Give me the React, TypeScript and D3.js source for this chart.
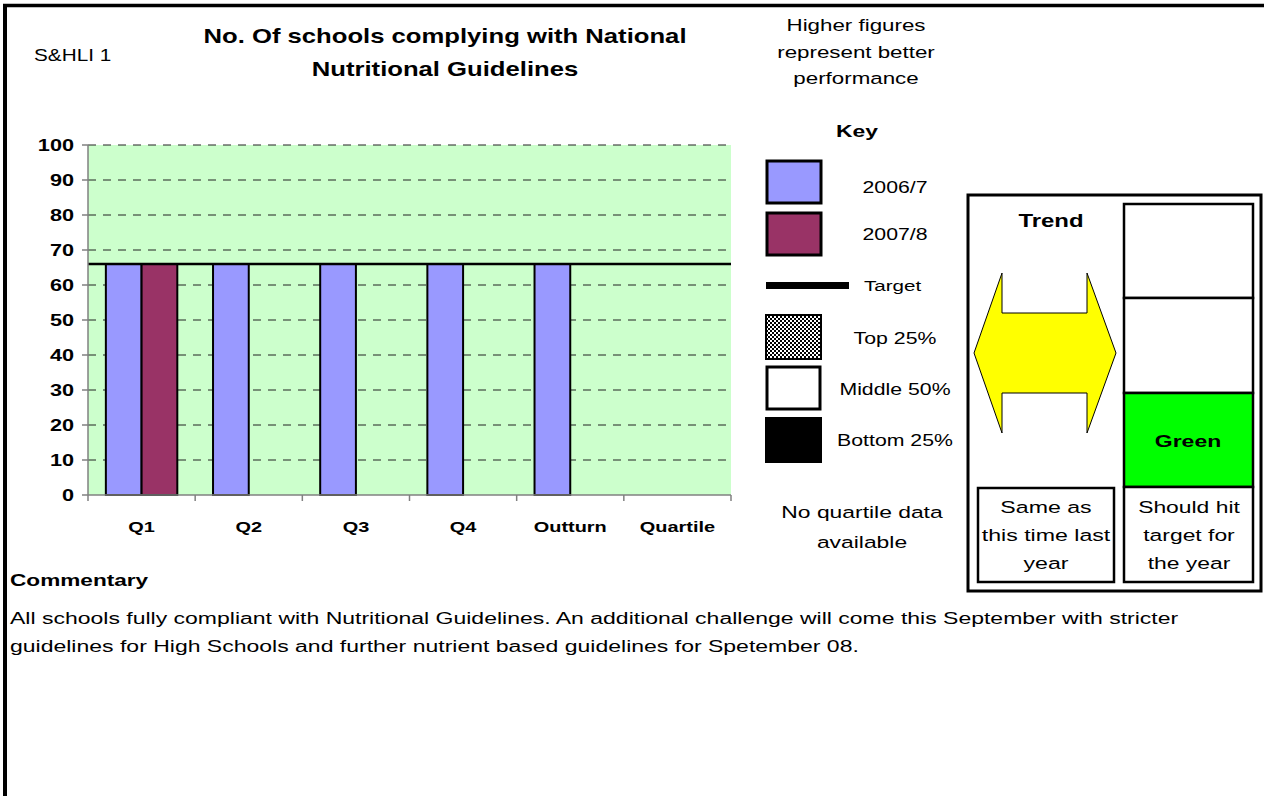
import React from "react";
import * as d3 from "d3";

const categories = ["Q1", "Q2", "Q3", "Q4", "Outturn", "Quartile"];
const seriesNames = ["2006/7", "2007/8"];
const values2006 = [66, 66, 66, 66, 66, null];
const values2007 = [66, null, null, null, null, null];
const targetValue = 66;
const yTicks = [0, 10, 20, 30, 40, 50, 60, 70, 80, 90, 100];
const seriesColors = ["#9999FF", "#993366"];

const titleLines = ["No. Of schools complying with National", "Nutritional Guidelines"];
const noteLines = ["Higher figures", "represent better", "performance"];
const trendLines = ["Same as", "this time last", "year"];
const ragLines = ["Should hit", "target for", "the year"];
const commentaryLines = [
  "All schools fully compliant with Nutritional Guidelines. An additional challenge will come this September with stricter",
  "guidelines for High Schools and further nutrient based guidelines for Spetember 08.",
];

const FONT = "'Liberation Sans', Arial, sans-serif";
// text on this sheet is set a little wide
const SX = 1.33;

type TProps = {
  x: number;
  y: number;
  size: number;
  bold?: boolean;
  anchor?: "start" | "middle" | "end";
  children: React.ReactNode;
};

function T({ x, y, size, bold, anchor = "start", children }: TProps) {
  return (
    <text
      transform={`translate(${x},${y}) scale(${SX},1)`}
      fontSize={size}
      fontWeight={bold ? "bold" : "normal"}
      textAnchor={anchor}
      fill="#000"
    >
      {children}
    </text>
  );
}

export default function App() {
  const plot = { left: 88, right: 731, top: 145, bottom: 495 };
  const x = d3.scaleBand<string>().domain(categories).range([plot.left, plot.right]);
  const y = d3.scaleLinear().domain([0, 100]).range([plot.bottom, plot.top]);
  // two bars per category with a gap of half a bar on each side
  const groupW = x.bandwidth() / 1.5;
  const inner = d3.scaleBand<string>().domain(seriesNames).range([0, groupW]);
  const series = [values2006, values2007];

  const arrow = [
    [974, 353], [1002, 273], [1002, 313], [1087, 313], [1087, 273], [1116, 353],
    [1087, 433], [1087, 393], [1002, 393], [1002, 433],
  ];

  return (
    <svg width={1264} height={796} style={{ position: "absolute", left: 0, top: 0, fontFamily: FONT }}>
      <defs>
        <pattern id="checker" width={4} height={4} patternUnits="userSpaceOnUse">
          <rect width={4} height={4} fill="#fff" />
          <rect width={2} height={2} fill="#000" />
          <rect x={2} y={2} width={2} height={2} fill="#000" />
        </pattern>
      </defs>
      <rect width={1264} height={796} fill="#fff" />
      {/* page frame */}
      <line x1={3} x2={1264} y1={5.5} y2={5.5} stroke="#000" strokeWidth={3.5} />
      <line x1={5} x2={5} y1={4} y2={796} stroke="#000" strokeWidth={4} />

      <T x={34} y={61} size={15.6}>S&amp;HLI 1</T>
      {titleLines.map((t, i) => (
        <T key={t} x={445} y={43 + i * 33} size={19.3} bold anchor="middle">{t}</T>
      ))}
      {noteLines.map((t, i) => (
        <T key={t} x={856} y={31 + i * 26.5} size={16.8} anchor="middle">{t}</T>
      ))}

      {/* plot */}
      <rect x={plot.left} y={plot.top} width={plot.right - plot.left} height={plot.bottom - plot.top} fill="#CCFFCC" />
      {yTicks.filter((v) => v > 0).map((v) => (
        <line key={v} x1={plot.left} x2={plot.right} y1={y(v)} y2={y(v)} stroke="#222" strokeWidth={1} strokeDasharray="8,7" />
      ))}
      {categories.map((c, i) =>
        series.map((s, j) => {
          const v = s[i];
          if (v == null) return null;
          const bx = (x(c) as number) + (x.bandwidth() - groupW) / 2 + (inner(seriesNames[j]) as number);
          return (
            <rect key={c + j} x={bx} y={y(v)} width={inner.bandwidth()} height={y(0) - y(v)}
              fill={seriesColors[j]} stroke="#000" strokeWidth={2} />
          );
        })
      )}
      <line x1={plot.left} x2={plot.right} y1={y(targetValue)} y2={y(targetValue)} stroke="#000" strokeWidth={2.5} />
      {/* axes */}
      <line x1={plot.left} x2={plot.left} y1={plot.top} y2={plot.bottom} stroke="#808080" strokeWidth={1.5} />
      <line x1={plot.left} x2={plot.right} y1={plot.bottom} y2={plot.bottom} stroke="#808080" strokeWidth={1.5} />
      {yTicks.map((v) => (
        <g key={v}>
          <line x1={plot.left - 6} x2={plot.left} y1={y(v)} y2={y(v)} stroke="#808080" strokeWidth={1.5} />
          <T x={74} y={y(v) + 5.8} size={16.3} bold anchor="end">{v}</T>
        </g>
      ))}
      {categories.map((c) => (
        <T key={c} x={(x(c) as number) + x.bandwidth() / 2} y={532} size={15} bold anchor="middle">{c}</T>
      ))}
      {[...categories.map((c) => x(c) as number), plot.right].map((tx, i) => (
        <line key={i} x1={tx} x2={tx} y1={plot.bottom} y2={plot.bottom + 6} stroke="#808080" strokeWidth={1.5} />
      ))}

      {/* key */}
      <T x={857} y={137} size={17.2} bold anchor="middle">Key</T>
      <rect x={767} y={161} width={54} height={42} fill={seriesColors[0]} stroke="#000" strokeWidth={3} />
      <T x={895} y={193} size={16} anchor="middle">{seriesNames[0]}</T>
      <rect x={767} y={213} width={54} height={42} fill={seriesColors[1]} stroke="#000" strokeWidth={3} />
      <T x={895} y={240} size={16} anchor="middle">{seriesNames[1]}</T>
      <rect x={766} y={282} width={83} height={7} fill="#000" />
      <T x={864} y={291} size={15.5}>Target</T>
      <rect x={766} y={315} width={55} height={44} fill="url(#checker)" stroke="#000" strokeWidth={2} />
      <T x={895} y={344} size={16} anchor="middle">Top 25%</T>
      <rect x={767} y={367} width={53} height={42} fill="#fff" stroke="#000" strokeWidth={3} />
      <T x={895} y={395} size={16} anchor="middle">Middle 50%</T>
      <rect x={765} y={417} width={57} height={46} fill="#000" />
      <T x={895} y={446} size={16} anchor="middle">Bottom 25%</T>
      <T x={862} y={518} size={17.2} anchor="middle">No quartile data</T>
      <T x={862} y={548} size={17.2} anchor="middle">available</T>

      {/* trend / RAG panel */}
      <rect x={968} y={195} width={293} height={396} fill="#fff" stroke="#000" strokeWidth={3} />
      <T x={1051} y={227} size={18} bold anchor="middle">Trend</T>
      <polygon points={arrow.map((p) => p.join(",")).join(" ")} fill="#FFFF00" stroke="#000" strokeWidth={1} />
      <rect x={1124} y={204} width={129} height={94} fill="#fff" stroke="#000" strokeWidth={2.5} />
      <rect x={1124} y={298} width={129} height={95} fill="#fff" stroke="#000" strokeWidth={2.5} />
      <rect x={1124} y={393} width={129} height={94} fill="#00FF00" stroke="#000" strokeWidth={2.5} />
      <T x={1188} y={447} size={17.3} bold anchor="middle">Green</T>
      <rect x={1124} y={487} width={129} height={95} fill="#fff" stroke="#000" strokeWidth={2.5} />
      <rect x={978} y={488} width={136} height={94} fill="#fff" stroke="#000" strokeWidth={2.5} />
      {trendLines.map((t, i) => (
        <T key={t} x={1046} y={513 + i * 28} size={17.4} anchor="middle">{t}</T>
      ))}
      {ragLines.map((t, i) => (
        <T key={t} x={1189} y={513 + i * 28} size={17.2} anchor="middle">{t}</T>
      ))}

      {/* commentary */}
      <T x={10} y={586} size={17} bold>Commentary</T>
      {commentaryLines.map((t, i) => (
        <T key={i} x={10} y={624 + i * 28} size={17.3}>{t}</T>
      ))}
    </svg>
  );
}
